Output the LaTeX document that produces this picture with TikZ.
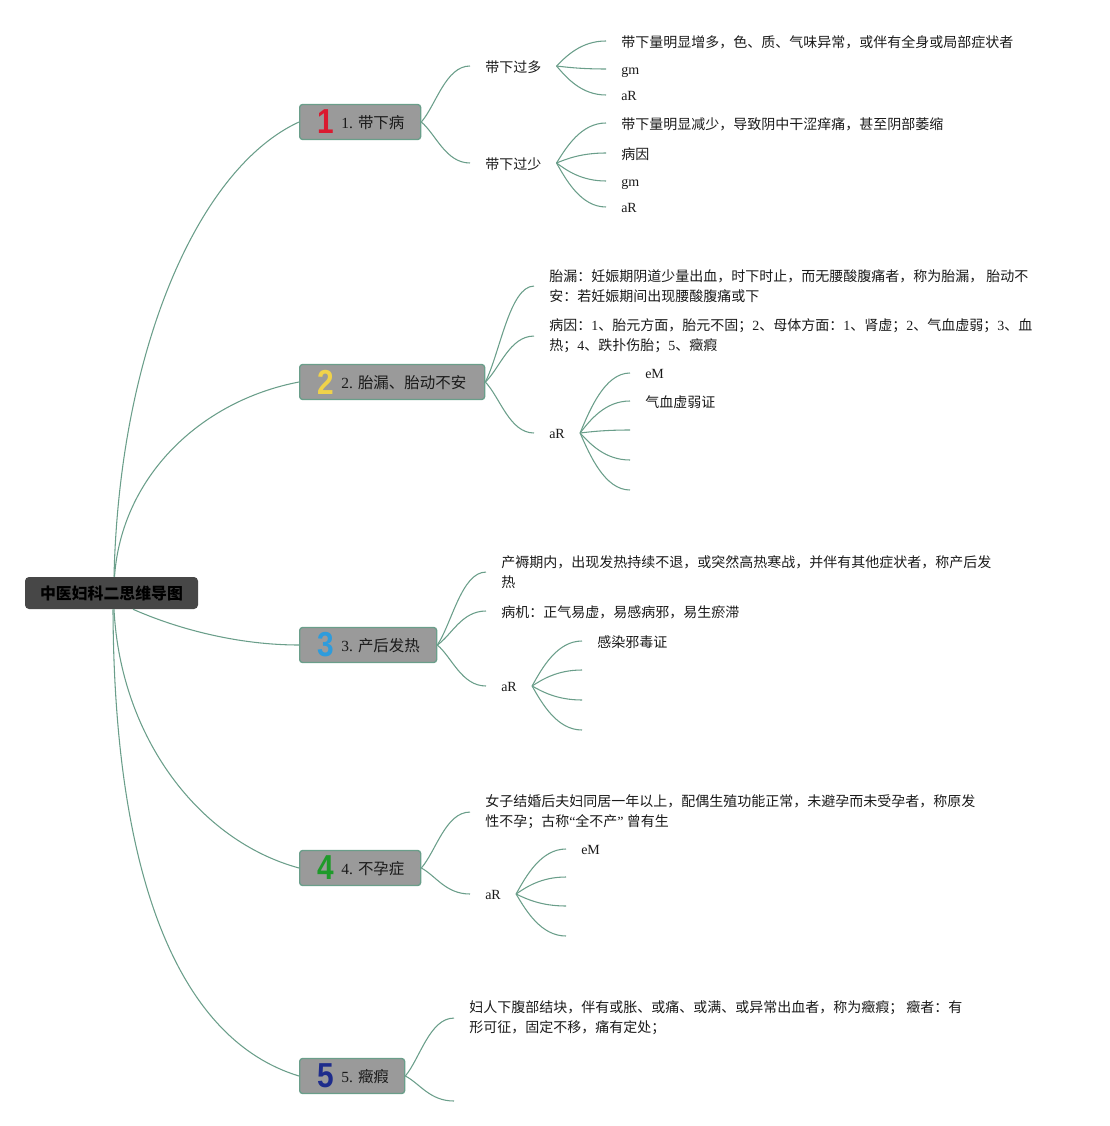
\documentclass[tikz,border=0pt]{standalone}
\usepackage{fontspec}
\usepackage{graphicx}
\setmainfont{Liberation Serif}
\newfontfamily\cjk{Noto Sans CJK SC}
\newfontfamily\iconfont{Liberation Sans}
\usetikzlibrary{calc}
\definecolor{linkc}{HTML}{6A9E8A}
\definecolor{rootfill}{HTML}{474747}
\definecolor{brfill}{HTML}{9A9A9A}
\definecolor{txt}{HTML}{1A1A1A}
\definecolor{ic1}{HTML}{DA1A30}
\definecolor{ic2}{HTML}{F0D24A}
\definecolor{ic3}{HTML}{2E9CDC}
\definecolor{ic4}{HTML}{1E9A2A}
\definecolor{ic5}{HTML}{1E2C8C}
\newcommand\rmd[1]{{\rmfamily #1}}
% connector from a point to a text node (ends 15px left of its west side)
\newcommand\conn[4]{\draw[link] let \p1=(#3), \p2=($(#4.west)+(-15,0)$) in (\p1) .. controls ({\x1+#1*(\x2-\x1)},{\y1+#2*(\y2-\y1)}) and ({\x1+0.5*(\x2-\x1)},\y2) .. (\p2);}
% connector from a point to an empty leaf end
\newcommand\connE[4]{\draw[link] let \p1=(#3), \p2=(#4) in (\p1) .. controls ({\x1+#1*(\x2-\x1)},{\y1+#2*(\y2-\y1)}) and ({\x1+0.5*(\x2-\x1)},\y2) .. (\p2);}
\newcommand\ico[1]{\scalebox{0.86}[1]{#1}}
\begin{document}
\begin{tikzpicture}[x=0.75pt,y=-0.75pt,
  link/.style={draw=linkc,line width=0.8pt},
  rootbox/.style={fill=rootfill,rounded corners=3pt,minimum width=129.75pt,minimum height=24pt,inner sep=0pt,text=black,font=\cjk\bfseries\fontsize{11.9}{14}\selectfont},
  brbox/.style={fill=brfill,draw=linkc,line width=1pt,rounded corners=2.2pt,minimum height=26.25pt,anchor=west,inner sep=0pt},
  brtext/.style={anchor=west,inner sep=0pt,text=txt,font=\fontsize{11.6}{14}\selectfont,text height=11.6pt,text depth=2pt},
  icon/.style={inner sep=0pt,font=\iconfont\bfseries\fontsize{26}{26}\selectfont},
  leafc/.style={anchor=west,inner sep=0pt,text=txt,align=left,font=\cjk\fontsize{10.5}{15}\selectfont},
  onec/.style={leafc,text height=11.2pt,text depth=1.8pt},
  oner/.style={anchor=west,inner sep=0pt,text=txt,font=\fontsize{10.5}{15}\selectfont,text height=9.8pt,text depth=1.8pt},
  para/.style={leafc,yshift=-0.8pt}]
\useasboundingbox (0,0) rectangle (1109,1126);

% root
\node[rootbox] (root) at (111.5,593) {中医妇科二思维导图};

% branch boxes
\node[brbox,minimum width=90.75pt] (b1) at (299,122) {};
\node[brbox,minimum width=138.75pt] (b2) at (299,382) {};
\node[brbox,minimum width=102.75pt] (b3) at (299,645) {};
\node[brbox,minimum width=90.75pt] (b4) at (299,868) {};
\node[brbox,minimum width=78.75pt] (b5) at (299,1076) {};
\node[icon,text=ic1] (i1) at (326,122) {\ico{1}};
\node[icon,text=ic2] (i2) at (326,382) {\ico{2}};
\node[icon,text=ic3] (i3) at (326,645) {\ico{3}};
\node[icon,text=ic4] (i4) at (326,868) {\ico{4}};
\node[icon,text=ic5] (i5) at (326,1076) {\ico{5}};
\node[brtext] (t1) at (341,122) {1. {\cjk 带下病}};
\node[brtext] (t2) at (341,382) {2. {\cjk 胎漏、胎动不安}};
\node[brtext] (t3) at (341,645) {3. {\cjk 产后发热}};
\node[brtext] (t4) at (341,868) {4. {\cjk 不孕症}};
\node[brtext] (t5) at (341,1076) {5. {\cjk 癥瘕}};

% root connectors
\draw[link] ($(root.north)+(2.5,0)$) .. controls (119.5,348) and (199,168) .. (b1.west);
\draw[link] ($(root.north)+(3,0)$) .. controls (121.5,477) and (200,401) .. (b2.west);
\draw[link] ($(root.south)+(21.5,0)$) .. controls (180,630) and (240,645) .. (b3.west);
\draw[link] ($(root.south)+(2.5,0)$) .. controls (120.5,738) and (199.6,841) .. (b4.west);
\draw[link] ($(root.south)+(1.5,0)$) .. controls (114,880) and (180,1040) .. (b5.west);

% ---------- branch 1
\node[onec] (c11) at (485,66) {带下过多};
\node[onec] (c12) at (485,163) {带下过少};
\node[onec] (l111) at (621,41) {带下量明显增多，色、质、气味异常，或伴有全身或局部症状者};
\node[oner] (l112) at (621,69) {gm};
\node[oner] (l113) at (621,95) {aR};
\node[onec] (l121) at (621,123) {带下量明显减少，导致阴中干涩痒痛，甚至阴部萎缩};
\node[onec] (l122) at (621,153) {病因};
\node[oner] (l123) at (621,181) {gm};
\node[oner] (l124) at (621,207) {aR};
\coordinate (f11) at ($(c11.east)+(15,0)$);
\coordinate (f12) at ($(c12.east)+(15,0)$);
\conn{0.3}{0.3}{b1.east}{c11}
\conn{0.3}{0.3}{b1.east}{c12}
\conn{0.2}{0.4}{f11}{l111}
\conn{0.2}{0.4}{f11}{l112}
\conn{0.2}{0.4}{f11}{l113}
\conn{0.2}{0.4}{f12}{l121}
\conn{0.2}{0.4}{f12}{l122}
\conn{0.2}{0.4}{f12}{l123}
\conn{0.2}{0.4}{f12}{l124}

% ---------- branch 2
\node[para] (c21) at (549,285) {胎漏：妊娠期阴道少量出血，时下时止，而无腰酸腹痛者，称为胎漏， 胎动不\\安：若妊娠期间出现腰酸腹痛或下};
\node[para] (c22) at (549,335) {病因：\rmd{1}、胎元方面，胎元不固；\rmd{2}、母体方面：\rmd{1}、肾虚；\rmd{2}、气血虚弱；\rmd{3}、血\\热；\rmd{4}、跌扑伤胎；\rmd{5}、癥瘕};
\node[oner] (c23) at (549,433) {aR};
\node[oner] (l231) at (645,373) {eM};
\node[onec] (l232) at (645,401) {气血虚弱证};
\coordinate (e233) at (630,430);
\coordinate (e234) at (630,460);
\coordinate (e235) at (630,490);
\coordinate (f23) at ($(c23.east)+(15,0)$);
\conn{0.3}{0.3}{b2.east}{c21}
\conn{0.3}{0.3}{b2.east}{c22}
\conn{0.3}{0.3}{b2.east}{c23}
\conn{0.2}{0.4}{f23}{l231}
\conn{0.2}{0.4}{f23}{l232}
\connE{0.2}{0.4}{f23}{e233}
\connE{0.2}{0.4}{f23}{e234}
\connE{0.2}{0.4}{f23}{e235}

% ---------- branch 3
\node[para] (c31) at (501,571) {产褥期内，出现发热持续不退，或突然高热寒战，并伴有其他症状者，称产后发\\热};
\node[onec] (c32) at (501,611) {病机：正气易虚，易感病邪，易生瘀滞};
\node[oner] (c33) at (501,686) {aR};
\node[onec] (l331) at (597,641) {感染邪毒证};
\coordinate (e332) at (582,670);
\coordinate (e333) at (582,700);
\coordinate (e334) at (582,730);
\coordinate (f33) at ($(c33.east)+(15,0)$);
\conn{0.3}{0.3}{b3.east}{c31}
\conn{0.3}{0.3}{b3.east}{c32}
\conn{0.3}{0.3}{b3.east}{c33}
\conn{0.2}{0.4}{f33}{l331}
\connE{0.2}{0.4}{f33}{e332}
\connE{0.2}{0.4}{f33}{e333}
\connE{0.2}{0.4}{f33}{e334}

% ---------- branch 4
\node[para] (c41) at (485,811) {女子结婚后夫妇同居一年以上，配偶生殖功能正常，未避孕而未受孕者，称原发\\性不孕；古称\rmd{“}全不产\rmd{”} 曾有生};
\node[oner] (c42) at (485,894) {aR};
\node[oner] (l421) at (581,849) {eM};
\coordinate (e422) at (566,877);
\coordinate (e423) at (566,906);
\coordinate (e424) at (566,936);
\coordinate (f42) at ($(c42.east)+(15,0)$);
\conn{0.3}{0.3}{b4.east}{c41}
\conn{0.3}{0.3}{b4.east}{c42}
\conn{0.2}{0.4}{f42}{l421}
\connE{0.2}{0.4}{f42}{e422}
\connE{0.2}{0.4}{f42}{e423}
\connE{0.2}{0.4}{f42}{e424}

% ---------- branch 5
\node[para] (c51) at (469,1017) {妇人下腹部结块，伴有或胀、或痛、或满、或异常出血者，称为癥瘕； 癥者：有\\形可征，固定不移，痛有定处；};
\coordinate (e52) at (454,1101);
\conn{0.3}{0.3}{b5.east}{c51}
\connE{0.3}{0.3}{b5.east}{e52}
\end{tikzpicture}
\end{document}
